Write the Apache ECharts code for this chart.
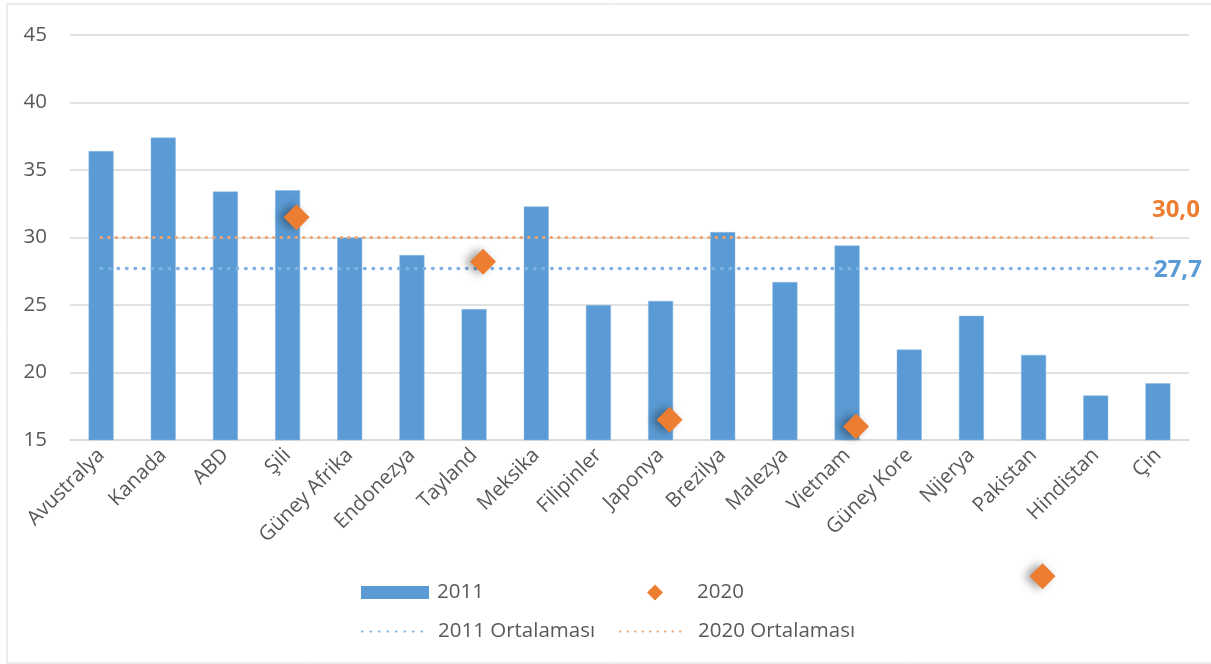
<!DOCTYPE html>
<html>
<head>
<meta charset="utf-8">
<script src="https://cdn.jsdelivr.net/npm/echarts@6/dist/echarts.min.js"></script>
<style>
  html, body { margin: 0; padding: 0; background: #fff; }
  #chart { width: 1211px; height: 664px; }
</style>
</head>
<body>
<div id="chart"></div>
<script>
const countries = ['Avustralya', 'Kanada', 'ABD', 'Şili', 'Güney Afrika', 'Endonezya', 'Tayland', 'Meksika',
  'Filipinler', 'Japonya', 'Brezilya', 'Malezya', 'Vietnam', 'Güney Kore', 'Nijerya', 'Pakistan', 'Hindistan', 'Çin'];
const values2011 = [36.4, 37.4, 33.4, 33.5, 30.0, 28.7, 24.7, 32.3, 25.0, 25.3, 30.4, 26.7, 29.4, 21.7, 24.2, 21.3, 18.3, 19.2];
const values2020 = [null, null, null, 31.5, null, null, 28.2, null, null, 16.5, null, null, 16.0, null, null, 4.9, null, null];
const avg2011 = 27.7;
const avg2020 = 30.0;
const yTicks = [15, 20, 25, 30, 35, 40, 45];

const font = 'Open Sans';
const textGrey = '#595959';
const blue = '#5B9BD5';
const orange = '#ED7D31';
const fs = 20.5;

const fmt = v => v.toFixed(1).replace('.', ',');

const chart = echarts.init(document.getElementById('chart'));

// legend text with a left pad so the labels line up like the original
const legendText = pad => ({fontSize: fs, color: textGrey, fontFamily: font, padding: [0, 0, 0, pad]});

const option = {
  animation: false,
  textStyle: {fontFamily: font},
  graphic: [{
    type: 'rect',
    shape: {x: 7, y: 4, width: 1210, height: 659},
    style: {fill: 'none', stroke: '#d9d9d9', lineWidth: 1}
  }],
  grid: {left: 70, right: 22, top: 35, bottom: 224},
  legend: [
    {data: ['2011'], left: 361, top: 582, padding: 0, itemWidth: 68, itemHeight: 13, icon: 'rect',
      itemStyle: {borderWidth: 0}, textStyle: legendText(3)},
    {data: ['2020'], left: 647, top: 582, padding: 0, itemWidth: 16, itemHeight: 16, icon: 'diamond',
      itemStyle: {shadowBlur: 0, shadowOffsetX: 0}, textStyle: legendText(29)},
    {data: ['2011 Ortalaması'], left: 361, top: 621, padding: 0, itemWidth: 68, itemHeight: 13,
      itemStyle: {opacity: 0}, textStyle: legendText(3)},
    {data: ['2020 Ortalaması'], left: 619, top: 621, padding: 0, itemWidth: 65, itemHeight: 13,
      itemStyle: {opacity: 0}, textStyle: legendText(8)}
  ],
  xAxis: {
    type: 'category',
    data: countries,
    axisTick: {show: false},
    axisLine: {lineStyle: {color: '#d9d9d9', width: 1.5}},
    axisLabel: {rotate: 45, margin: 12, fontSize: fs, color: textGrey, fontFamily: font, interval: 0}
  },
  yAxis: {
    type: 'value',
    min: yTicks[0],
    max: yTicks[yTicks.length - 1],
    interval: 5,
    axisLine: {show: false},
    axisTick: {show: false},
    axisLabel: {margin: 23, fontSize: fs, color: textGrey, fontFamily: font},
    splitLine: {lineStyle: {color: '#d9d9d9', width: 1.5}}
  },
  series: [
    {
      name: '2011',
      type: 'bar',
      data: values2011,
      barWidth: 25,
      itemStyle: {color: blue, borderColor: '#8bb8e3', borderWidth: 0.5},
      z: 2
    },
    {
      name: '2011 Ortalaması',
      type: 'line',
      data: countries.map(() => avg2011),
      symbol: 'none',
      color: '#7fb1e2',
      lineStyle: {color: '#7fb1e2', width: 3.5, type: [0.5, 8], cap: 'round'},
      endLabel: {
        show: true,
        formatter: p => fmt(p.value),
        offset: [-12, 2],
        fontSize: 24,
        fontWeight: 'bold',
        color: blue,
        fontFamily: font
      },
      z: 3
    },
    {
      name: '2020 Ortalaması',
      type: 'line',
      data: countries.map(() => avg2020),
      symbol: 'none',
      color: '#f3a36e',
      lineStyle: {color: '#f3a36e', width: 3, type: [0.5, 7], cap: 'round'},
      endLabel: {
        show: true,
        formatter: p => fmt(p.value),
        offset: [-14, -27],
        fontSize: 24,
        fontWeight: 'bold',
        color: orange,
        fontFamily: font
      },
      z: 3
    },
    {
      name: '2020',
      type: 'scatter',
      data: values2020,
      symbol: 'diamond',
      symbolSize: 26,
      symbolOffset: [9, 0],
      clip: false,
      itemStyle: {
        color: orange,
        opacity: 1,
        shadowBlur: 10,
        shadowOffsetX: -5,
        shadowColor: 'rgba(0,0,0,0.4)'
      },
      z: 4
    }
  ]
};

chart.setOption(option);
</script>
</body>
</html>
